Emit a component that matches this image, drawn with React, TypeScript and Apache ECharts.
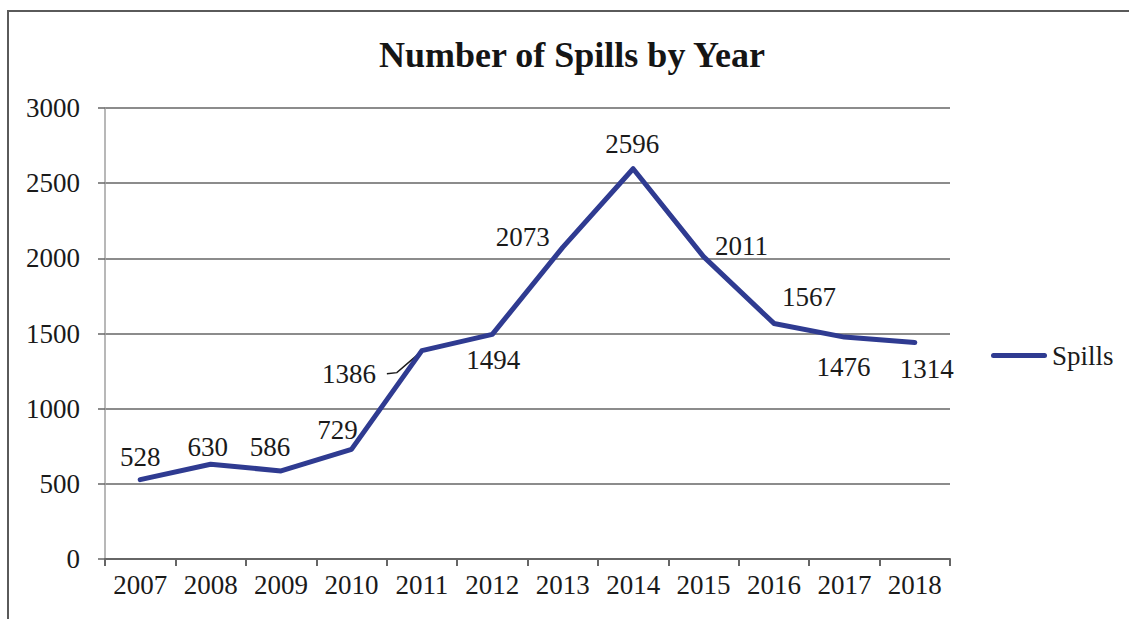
import React, { useEffect, useRef } from "react";
import * as echarts from "echarts";

const years = ["2007", "2008", "2009", "2010", "2011", "2012", "2013", "2014", "2015", "2016", "2017", "2018"];
// values printed as data labels
const spillLabels = [528, 630, 586, 729, 1386, 1494, 2073, 2596, 2011, 1567, 1476, 1314];
// line heights as drawn in the reference (2018 point is drawn near 1440)
const plotted = [528, 630, 586, 729, 1386, 1494, 2073, 2596, 2011, 1567, 1476, 1440];
const yTicks = [0, 500, 1000, 1500, 2000, 2500, 3000];

// label placement relative to each point [dx, dy]
const labelOffsets: number[][] = [
  [0, -23], [-3, -17], [-11, -24], [-14, -19], [-73, 23], [1, 26],
  [-40, -10], [-1, -25], [38, -11], [35, -26], [-1, 30], [12, 26],
];
// index of the label that has a leader line
const leaderIndex = 4;

const SERIF = "'Liberation Serif', 'Times New Roman', serif";
const LINE_COLOR = "#2f3b91";

export default function App() {
  const ref = useRef<HTMLDivElement>(null);
  useEffect(() => {
    if (!ref.current) return;
    const chart = echarts.init(ref.current, undefined, { renderer: "svg" });
    chart.setOption({
      animation: false,
      backgroundColor: "#ffffff",
      textStyle: { fontFamily: SERIF },
      title: {
        text: "Number of Spills by Year",
        left: 572,
        textAlign: "center",
        top: 37,
        padding: 0,
        textStyle: { fontFamily: SERIF, fontSize: 36, fontWeight: "bold", color: "#151515" },
      },
      graphic: [
        {
          id: "frame",
          type: "rect",
          shape: { x: 8, y: 11, width: 1140, height: 640 },
          style: { fill: "none", stroke: "#5a5a5a", lineWidth: 2 },
          silent: true,
        },
      ],
      legend: {
        data: ["Spills"],
        left: 986,
        top: 337,
        icon: "path://M2.5,0 L53.5,0 A2.5,2.5 0 0 1 53.5,5 L2.5,5 A2.5,2.5 0 0 1 2.5,0 Z",
        itemWidth: 56,
        itemHeight: 5,
        itemStyle: { color: LINE_COLOR },
        textStyle: { fontFamily: SERIF, fontSize: 27, color: "#1a1a1a" },
      },
      grid: { left: 105, right: 179, top: 108, bottom: 60, containLabel: false },
      xAxis: {
        type: "category",
        data: years,
        boundaryGap: true,
        axisLine: { lineStyle: { color: "#666666", width: 2 } },
        axisTick: { show: true, length: 7, lineStyle: { color: "#666666", width: 2 } },
        axisLabel: { fontFamily: SERIF, fontSize: 27, color: "#1a1a1a", margin: 12 },
      },
      yAxis: {
        type: "value",
        min: yTicks[0],
        max: yTicks[yTicks.length - 1],
        interval: 500,
        axisLine: { show: true, lineStyle: { color: "#a0a0a0", width: 1.5 } },
        axisTick: { show: true, length: 7, lineStyle: { color: "#666666", width: 1.5 } },
        splitLine: { show: true, lineStyle: { color: "#666666", width: 1.5 } },
        axisLabel: {
          fontFamily: SERIF,
          fontSize: 27,
          color: "#1a1a1a",
          margin: 25,
          formatter: (v: number) => String(v),
        },
      },
      series: [
        {
          name: "Spills",
          type: "line",
          symbol: "circle",
          symbolSize: 1,
          showSymbol: true,
          lineStyle: { color: LINE_COLOR, width: 5, cap: "round", join: "round" },
          itemStyle: { color: LINE_COLOR },
          data: plotted.map((v, i) => ({
            value: v,
            label: {
              show: true,
              position: "inside",
              offset: labelOffsets[i],
              formatter: String(spillLabels[i]),
              fontFamily: SERIF,
              fontSize: 27,
              color: "#1a1a1a",
            },
          })),
        },
      ],
    });
    // leader line from the 2011 label to its point, positioned through the chart's scales
    const p = chart.convertToPixel({ seriesIndex: 0 }, [leaderIndex, plotted[leaderIndex]]) as number[];
    if (p && isFinite(p[0])) {
      chart.setOption({
        graphic: [
          {
            id: "leader",
            type: "polyline",
            shape: {
              points: [
                [p[0] - 35, p[1] + 23],
                [p[0] - 25, p[1] + 22],
                [p[0] - 3, p[1] + 3],
              ],
            },
            style: { fill: "none", stroke: "#1a1a1a", lineWidth: 1.5 },
            silent: true,
          },
        ],
      });
    }
    return () => chart.dispose();
  }, []);
  return (
    <div
      ref={ref}
      style={{ position: "fixed", left: 0, top: 0, width: 1129, height: 619 }}
    />
  );
}
